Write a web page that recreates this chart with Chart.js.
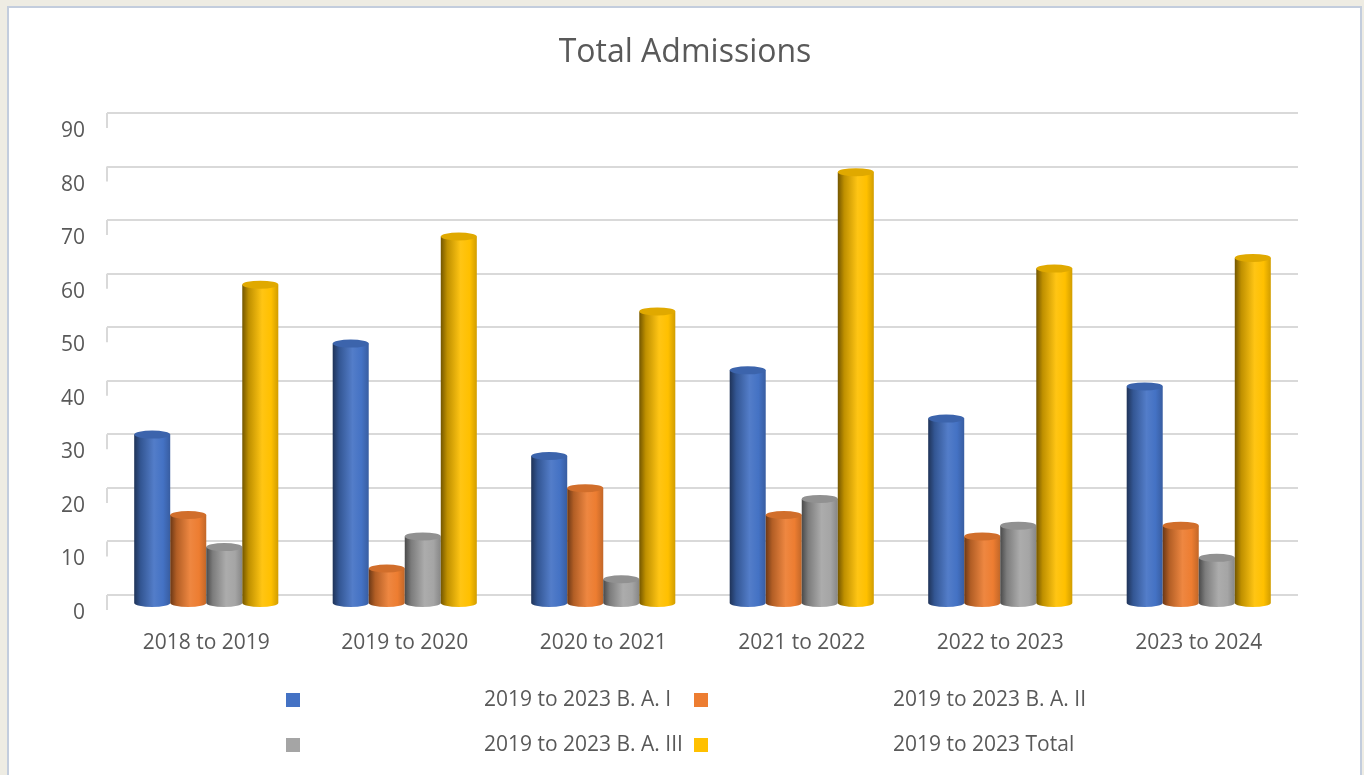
<!DOCTYPE html>
<html>
<head>
<meta charset="utf-8">
<script src="https://cdn.jsdelivr.net/npm/chart.js"></script>
<style>
  html, body { margin: 0; padding: 0; overflow: hidden; background: #eeece3; width: 1364px; height: 775px; }
  #frame { position: absolute; left: 7px; top: 6px; width: 1351px; height: 800px; border: 2px solid #c3cddd; background: #fff; }
  #chart { position: absolute; left: 0; top: 0; }
</style>
</head>
<body>
<div id="frame"></div>
<canvas id="chart" width="1364" height="775"></canvas>
<script>
const title = "Total Admissions";
const years = ["2018 to 2019", "2019 to 2020", "2020 to 2021", "2021 to 2022", "2022 to 2023", "2023 to 2024"];
const seriesNames = ["2019 to 2023 B. A. I", "2019 to 2023 B. A. II", "2019 to 2023 B. A. III", "2019 to 2023 Total"];
const baOne = [32, 49, 28, 44, 35, 41];
const baTwo = [17, 7, 22, 17, 13, 15];
const baThree = [11, 13, 5, 20, 15, 9];
const total = [60, 69, 55, 81, 63, 65];
const colors = ["#4472C4", "#ED7D31", "#A5A5A5", "#FFC000"];

const textColor = "#595959";
const font = "'Open Sans', sans-serif";

function shade(hex, f) {
  const n = parseInt(hex.slice(1), 16);
  let r = (n >> 16) & 255, g = (n >> 8) & 255, b = n & 255;
  const m = v => Math.max(0, Math.min(255, Math.round(f <= 1 ? v * f : v + (255 - v) * (f - 1))));
  return `rgb(${m(r)},${m(g)},${m(b)})`;
}

// draws each bar as a cylinder, using the bar element positions from the scales
const cylinders = {
  id: "cylinders",
  afterDatasetsDraw(chart) {
    const ctx = chart.ctx;
    const dy = 7; // depth shift of the bars relative to the back wall
    const ry = 4;
    chart.data.datasets.forEach((ds, di) => {
      const meta = chart.getDatasetMeta(di);
      const c = colors[di];
      meta.data.forEach(bar => {
        const w = bar.width, x0 = bar.x - w / 2, x1 = bar.x + w / 2;
        const yt = bar.y + dy + ry, yb = bar.base + dy + 2;
        const g = ctx.createLinearGradient(x0, 0, x1, 0);
        g.addColorStop(0, shade(c, 0.45));
        g.addColorStop(0.18, shade(c, 0.75));
        g.addColorStop(0.55, shade(c, 1.08));
        g.addColorStop(0.8, shade(c, 1.0));
        g.addColorStop(1, shade(c, 0.82));
        ctx.save();
        ctx.fillStyle = g;
        ctx.beginPath();
        ctx.moveTo(x0, yt);
        ctx.lineTo(x0, yb);
        ctx.ellipse(bar.x, yb, w / 2, ry, 0, Math.PI, 0, true);
        ctx.lineTo(x1, yt);
        ctx.closePath();
        ctx.fill();
        ctx.beginPath();
        ctx.ellipse(bar.x, yt, w / 2, ry, 0, 0, Math.PI * 2);
        ctx.fillStyle = shade(c, 0.88);
        ctx.fill();
        ctx.restore();
      });
    });
  }
};

// title, left wall hooks and legend
const decor = {
  id: "decor",
  beforeDatasetsDraw(chart) {
    const ctx = chart.ctx, y = chart.scales.y, area = chart.chartArea;
    ctx.save();
    ctx.strokeStyle = "#d9d9d9";
    ctx.lineWidth = 2;
    y.ticks.forEach(t => {
      const py = y.getPixelForValue(t.value);
      ctx.beginPath();
      ctx.moveTo(area.left, py);
      ctx.lineTo(area.left, py + 15);
      ctx.stroke();
    });
    ctx.restore();
  },
  afterDraw(chart) {
    const ctx = chart.ctx;
    ctx.save();
    ctx.fillStyle = textColor;
    ctx.textBaseline = "middle";
    ctx.textAlign = "center";
    ctx.font = `32px ${font}`;
    ctx.fillText(title, 685, 53);
    ctx.font = `21px ${font}`;
    ctx.textAlign = "left";
    const spots = [[286, 700, 484], [694, 700, 893], [286, 745, 484], [694, 745, 893]];
    seriesNames.forEach((name, i) => {
      const [mx, my, tx] = spots[i];
      ctx.fillStyle = colors[i];
      ctx.fillRect(mx, my - 7, 14, 14);
      ctx.fillStyle = textColor;
      ctx.fillText(name, tx, my);
    });
    ctx.restore();
  }
};

const data = {
  labels: years,
  datasets: [baOne, baTwo, baThree, total].map((vals, i) => ({
    label: seriesNames[i],
    data: vals,
    backgroundColor: "rgba(0,0,0,0)",
    categoryPercentage: 0.726,
    barPercentage: 1
  }))
};

new Chart(document.getElementById("chart"), {
  type: "bar",
  data,
  plugins: [cylinders, decor],
  options: {
    responsive: false,
    animation: false,
    layout: { padding: { left: 0, right: 66, top: 113, bottom: 0 } },
    plugins: { legend: { display: false }, title: { display: false }, tooltip: { enabled: false } },
    scales: {
      x: {
        grid: { display: false, drawTicks: false },
        border: { display: false },
        ticks: { color: textColor, font: { family: font, size: 21 }, padding: 35 },
        afterFit(s) { s.height = 775 - 595; }
      },
      y: {
        min: 0, max: 90,
        grid: { color: "#d9d9d9", lineWidth: 2, drawTicks: false },
        border: { display: false },
        ticks: { stepSize: 10, color: textColor, font: { family: font, size: 21 }, padding: 22, labelOffset: 18 },
        afterFit(s) { s.width = 107; }
      }
    }
  }
});
</script>
</body>
</html>
